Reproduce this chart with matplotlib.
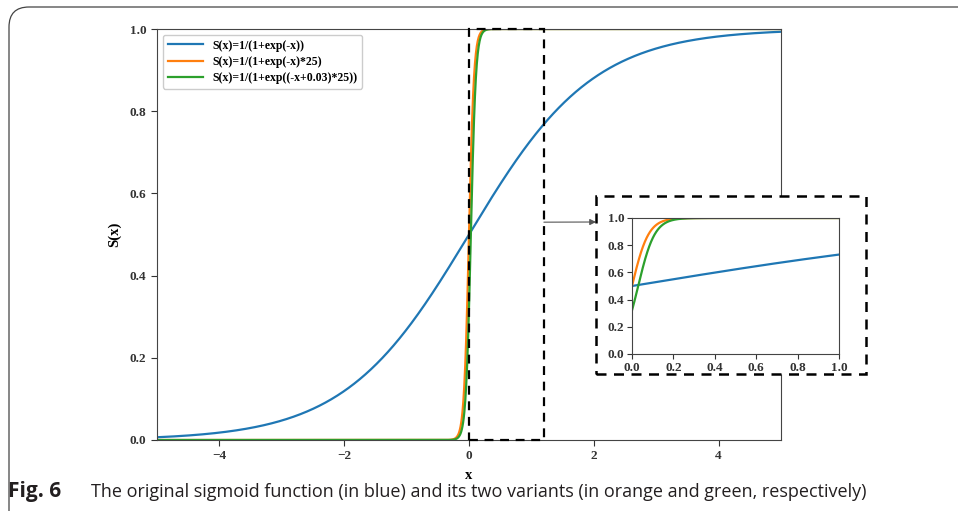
import numpy as np
import matplotlib
matplotlib.use('Agg')
import matplotlib.pyplot as plt
from matplotlib.patches import Rectangle, FancyBboxPatch

# curves as given in the legend: 1/(1+exp((-x+shift)*scale))
labels = ["S(x)=1/(1+exp(-x))",
          "S(x)=1/(1+exp(-x)*25)",
          "S(x)=1/(1+exp((-x+0.03)*25))"]
scales = [1, 25, 25]
shifts = [0.0, 0.0, 0.03]
colors = ["#1f77b4", "#ff7f0e", "#2ca02c"]

x_main = np.linspace(-5, 5, 2001)
x_zoom = np.linspace(0, 1, 1001)
zoom_box = (0, 1.2)

caption_bold = "Fig. 6"
caption = "The original sigmoid function (in blue) and its two variants (in orange and green, respectively)"

W, H = 958, 511
serif = dict(family='Liberation Serif', weight='bold')

fig = plt.figure(figsize=(W / 100, H / 100), dpi=100)

ax = fig.add_axes([157 / W, 1 - 440 / H, 624 / W, 411 / H])
for k in range(3):
    y = 1 / (1 + np.exp((-x_main + shifts[k]) * scales[k]))
    ax.plot(x_main, y, color=colors[k], lw=1.6, label=labels[k])
ax.set_xlim(-5, 5)
ax.set_ylim(0, 1)
ax.set_xticks([-4, -2, 0, 2, 4])
ax.set_yticks([0, 0.2, 0.4, 0.6, 0.8, 1.0])
ax.set_xticklabels(['\u22124', '\u22122', '0', '2', '4'])
ax.set_yticklabels(['0.0', '0.2', '0.4', '0.6', '0.8', '1.0'])
for t in ax.get_xticklabels() + ax.get_yticklabels():
    t.set_fontproperties(matplotlib.font_manager.FontProperties(size=9.5, **serif))
ax.set_xlabel('x', fontsize=10.5, labelpad=5, **serif)
ax.set_ylabel('S(x)', fontsize=10.5, labelpad=6, **serif)
ax.tick_params(length=4, width=0.8, colors='#333333')
for s in ax.spines.values():
    s.set_color('#444444')
leg = ax.legend(loc='upper left', prop=dict(size=8.5, **serif), handlelength=3,
                borderpad=0.4, labelspacing=0.35, framealpha=1)

# dashed box marking the zoomed region
ax.add_patch(Rectangle((zoom_box[0], 0), zoom_box[1] - zoom_box[0], 1, fill=False,
                       ls=(0, (4, 3)), lw=1.6, ec='black', zorder=5, clip_on=False))

# white dashed frame around the inset
fig.add_artist(Rectangle((596 / W, 1 - 374 / H), 270 / W, 178 / H,
                         transform=fig.transFigure, fc='white', ec='black',
                         ls=(0, (4, 3)), lw=1.8, zorder=1))

axin = fig.add_axes([632 / W, 1 - 354 / H, 207 / W, 136 / H])
axin.set_zorder(2)
for k in range(3):
    y = 1 / (1 + np.exp((-x_zoom + shifts[k]) * scales[k]))
    axin.plot(x_zoom, y, color=colors[k], lw=1.6)
axin.set_xlim(0, 1)
axin.set_ylim(0, 1)
axin.set_xticks([0, 0.2, 0.4, 0.6, 0.8, 1.0])
axin.set_yticks([0, 0.2, 0.4, 0.6, 0.8, 1.0])
axin.set_xticklabels(['0.0', '0.2', '0.4', '0.6', '0.8', '1.0'])
axin.set_yticklabels(['0.0', '0.2', '0.4', '0.6', '0.8', '1.0'])
for t in axin.get_xticklabels() + axin.get_yticklabels():
    t.set_fontproperties(matplotlib.font_manager.FontProperties(size=9.5, **serif))
axin.tick_params(length=3.5, width=0.8, colors='#333333', pad=2)
for s in axin.spines.values():
    s.set_color('#444444')

# arrow from zoom box to inset
ax.annotate('', xy=(596 / W, 1 - 222 / H), xycoords='figure fraction',
            xytext=(zoom_box[1], 0.53), textcoords='data',
            arrowprops=dict(arrowstyle='-|>', color='#555555', lw=0.8,
                            mutation_scale=9, shrinkA=0, shrinkB=0),
            zorder=6, annotation_clip=False)

# journal frame with rounded corner
fig.add_artist(FancyBboxPatch((0.09, -1), 20, 6.04, transform=fig.dpi_scale_trans,
                              boxstyle='round,pad=0,rounding_size=0.2',
                              fill=False, ec='#444444', lw=0.9, zorder=0))

fig.text(8 / W, 1 - 497 / H, caption_bold, fontsize=15, family='Open Sans',
         weight='bold', va='baseline', color='#231f20')
fig.text(91 / W, 1 - 497 / H, caption, fontsize=13, family='Open Sans',
         va='baseline', color='#231f20')

fig.savefig('out.png', dpi=100)
